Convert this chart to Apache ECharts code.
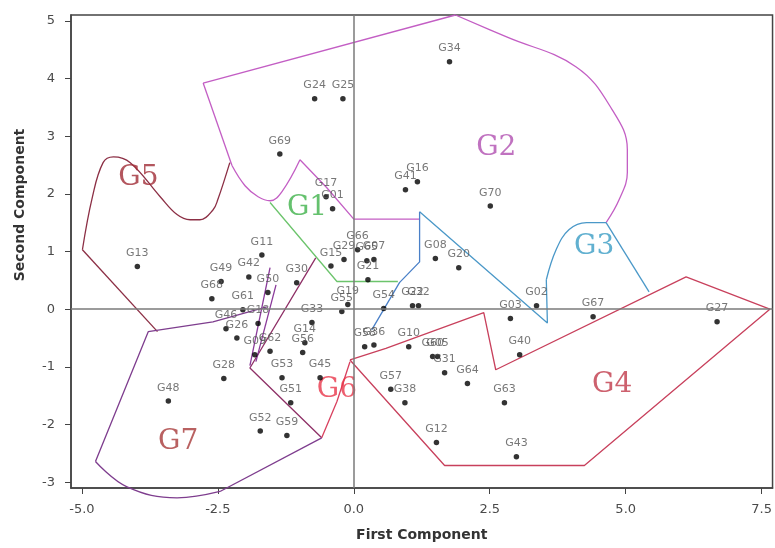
<!DOCTYPE html>
<html>
<head>
<meta charset="utf-8">
<script src="https://cdn.jsdelivr.net/npm/echarts@6/dist/echarts.min.js"></script>
<style>
  html, body { margin: 0; padding: 0; background: #ffffff; }
  #chart { width: 775px; height: 548px; }
</style>
</head>
<body>
<div id="chart"></div>
<script>
// Genotype scores on the first two principal components
const genotypes = ['G34','G24','G25','G69','G17','G01','G16','G41','G70','G13',
  'G11','G42','G49','G68','G61','G50','G30','G15','G29','G66',
  'G65','G07','G21','G19','G55','G54','G22','G32','G08','G20',
  'G02','G03','G67','G27','G40','G10','G58','G36','G60','G05',
  'G31','G64','G63','G12','G43','G38','G57','G28','G48','G52',
  'G59','G51','G33','G14','G56','G53','G45','G09','G62','G46',
  'G26','G18'];
const pc1 = [1.76,-0.72,-0.20,-1.36,-0.51,-0.39,1.17,0.95,2.51,-3.98,
  -1.69,-1.93,-2.44,-2.61,-2.04,-1.58,-1.05,-0.42,-0.18,0.07,
  0.24,0.37,0.26,-0.11,-0.22,0.55,1.08,1.19,1.50,1.93,
  3.36,2.88,4.40,6.68,3.05,1.01,0.20,0.37,1.45,1.54,
  1.67,2.09,2.77,1.52,2.99,0.94,0.68,-2.39,-3.41,-1.72,
  -1.23,-1.16,-0.77,-0.90,-0.94,-1.32,-0.62,-1.82,-1.54,-2.35,
  -2.15,-1.76];
const pc2 = [4.29,3.65,3.65,2.69,1.95,1.74,2.21,2.07,1.79,0.74,
  0.94,0.56,0.48,0.18,-0.01,0.29,0.46,0.75,0.86,1.03,
  0.84,0.86,0.51,0.08,-0.04,0.01,0.06,0.06,0.88,0.72,
  0.06,-0.16,-0.13,-0.22,-0.79,-0.65,-0.65,-0.62,-0.82,-0.82,
  -1.10,-1.29,-1.62,-2.31,-2.56,-1.62,-1.39,-1.20,-1.59,-2.11,
  -2.19,-1.62,-0.23,-0.58,-0.75,-1.19,-1.19,-0.79,-0.73,-0.34,
  -0.50,-0.25];

const xTicks = [-5, -2.5, 0, 2.5, 5, 7.5];
const yTicks = [-3, -2, -1, 0, 1, 2, 3, 4, 5];

// Cluster names and where they are written
const groupNames = ['G1','G2','G3','G4','G5','G6','G7'];
const groupX = [-0.86, 2.62, 4.42, 4.75, -3.96, -0.31, -3.23];
const groupY = [1.76, 2.80, 1.08, -1.31, 2.28, -1.40, -2.30];

// Cluster outlines, vertex lists in component units
const g2Left   = [[-2.77,3.92],[-2.24,2.49]];
const g2Top    = [[-2.77,3.92],[1.87,5.10]];
const g2Arc    = [[1.87,5.10],[2.81,4.72],[4.09,4.20],[4.75,3.46],[5.03,2.77],[5.03,2.37],[4.88,1.90],[4.64,1.50]];
const g2Notch  = [[-2.24,2.49],[-2.00,2.14],[-1.76,1.95],[-1.54,1.88],[-1.32,2.04],[-0.99,2.59]];
const g2Bottom = [[-0.99,2.59],[-0.50,2.11],[0.00,1.56],[1.21,1.56]];
const g1Edge   = [[-1.54,1.85],[-0.31,0.48],[0.81,0.48]];
const g3Edge   = [[1.21,1.69],[3.56,-0.24],[3.54,0.51]];
const g3Arc    = [[3.54,0.51],[3.72,1.03],[3.96,1.38],[4.28,1.50],[4.64,1.50]];
const g3Right  = [[4.64,1.50],[5.43,0.30]];
const g3Inner  = [[1.21,1.69],[1.21,0.82],[0.84,0.46],[0.33,-0.36]];
const g4Edge   = [[-0.07,-0.88],[0.59,-0.68],[2.39,-0.06],[2.61,-1.05],[6.11,0.56],[7.65,0.00],[4.24,-2.71],[1.67,-2.71],[-0.07,-0.88]];
const g5Edge   = [[-4.99,1.03],[-3.61,-0.39]];
const g5Wave   = [[-4.99,1.03],[-4.81,1.93],[-4.61,2.54],[-4.42,2.64],[-4.11,2.54],[-3.56,1.95],[-3.25,1.64],[-3.01,1.55],[-2.83,1.55],[-2.59,1.72],[-2.50,1.90],[-2.28,2.54]];
const g6Upper  = [[-0.70,0.89],[-1.91,-1.02],[-0.59,-2.23]];
const g6Right  = [[-0.59,-2.23],[-0.31,-1.60],[-0.07,-0.91]];
const g7Left   = [[-2.46,-3.16],[-0.59,-2.23]];
const g7Corner = [[-1.60,0.04],[-2.59,-0.22],[-3.78,-0.39],[-4.75,-2.64]];
const g7Curve  = [[-4.75,-2.64],[-4.17,-3.08],[-3.25,-3.27],[-2.46,-3.16]];
const g7Spine1 = [[-1.54,0.72],[-1.91,-0.98]];
const g7Spine2 = [[-1.43,0.42],[-1.80,-0.91]];

const outlineStyles = [
  { pts: g2Left,   color: '#c35ec4', smooth: false },
  { pts: g2Top,    color: '#c35ec4', smooth: false },
  { pts: g2Arc,    color: '#c35ec4', smooth: 0.4 },
  { pts: g2Notch,  color: '#c35ec4', smooth: 0.4 },
  { pts: g2Bottom, color: '#c35ec4', smooth: false },
  { pts: g1Edge,   color: '#6cc46c', smooth: false },
  { pts: g3Edge,   color: '#4a98c8', smooth: false },
  { pts: g3Arc,    color: '#4a98c8', smooth: 0.4 },
  { pts: g3Right,  color: '#4a98c8', smooth: false },
  { pts: g3Inner,  color: '#4a80c8', smooth: false },
  { pts: g4Edge,   color: '#c8405c', smooth: false },
  { pts: g5Edge,   color: '#8c2f45', smooth: false },
  { pts: g5Wave,   color: '#8c2f45', smooth: 0.4 },
  { pts: g6Upper,  color: '#8e2f66', smooth: false },
  { pts: g6Right,  color: '#d8405e', smooth: false },
  { pts: g7Left,   color: '#7e3d8e', smooth: false },
  { pts: g7Corner, color: '#7e3d8e', smooth: false },
  { pts: g7Curve,  color: '#7e3d8e', smooth: 0.4 },
  { pts: g7Spine1, color: '#8a3a9a', smooth: false },
  { pts: g7Spine2, color: '#8a3a9a', smooth: false }
];
const groupColors = ['#3fb24a', '#b04fb0', '#3a9cc4', '#c03a4a', '#a02c36', '#e8364a', '#a83a3a'];

const chart = echarts.init(document.getElementById('chart'), null, { renderer: 'canvas' });

const outlineSeries = outlineStyles.map(o => ({
  type: 'line',
  data: o.pts,
  smooth: o.smooth,
  symbol: 'none',
  clip: false,
  silent: true,
  z: 1,
  lineStyle: { color: o.color, width: 1.3 }
}));

const pointSeries = {
  type: 'scatter',
  symbolSize: 5.5,
  z: 4,
  itemStyle: { color: '#000000' },
  label: {
    show: true,
    position: 'top',
    distance: 5,
    formatter: '{b}',
    fontFamily: 'DejaVu Sans',
    fontSize: 11,
    color: '#555555'
  },
  data: genotypes.map((g, i) => ({ name: g, value: [pc1[i], pc2[i]] })),
  markLine: {
    silent: true,
    symbol: 'none',
    label: { show: false },
    lineStyle: { color: '#7a7a7a', width: 1.5, type: 'solid' },
    data: [{ xAxis: 0 }, { yAxis: 0 }]
  }
};

const groupSeries = {
  type: 'scatter',
  symbolSize: 0,
  z: 3,
  silent: true,
  data: groupNames.map((g, i) => ({
    name: g,
    value: [groupX[i], groupY[i]],
    label: { color: groupColors[i] }
  })),
  label: {
    show: true,
    position: 'inside',
    formatter: '{b}',
    fontFamily: 'DejaVu Serif',
    fontSize: 28
  }
};

chart.setOption({
  backgroundColor: '#ffffff',
  animation: false,
  grid: {
    left: 71, right: 2, top: 15, bottom: 60,
    show: true, borderColor: '#444444', borderWidth: 1.5,
    containLabel: false
  },
  xAxis: {
    type: 'value',
    min: -5.2, max: 7.7,
    splitLine: { show: false },
    axisLine: { show: true, onZero: false, lineStyle: { color: '#444444', width: 1.5 } },
    axisTick: { show: true, customValues: xTicks, length: 6, lineStyle: { color: '#444444' } },
    axisLabel: {
      customValues: xTicks, margin: 15,
      formatter: v => v.toFixed(1),
      fontFamily: 'DejaVu Sans', fontSize: 13, color: '#4a4a4a'
    },
    name: 'First Component',
    nameLocation: 'middle',
    nameGap: 40,
    nameTextStyle: { fontFamily: 'DejaVu Sans', fontWeight: 'bold', fontSize: 14, color: '#333333' }
  },
  yAxis: {
    type: 'value',
    min: -3.1, max: 5.1,
    splitLine: { show: false },
    axisLine: { show: true, onZero: false, lineStyle: { color: '#444444', width: 1.5 } },
    axisTick: { show: true, customValues: yTicks, length: 6, lineStyle: { color: '#444444' } },
    axisLabel: {
      customValues: yTicks, margin: 16,
      formatter: v => String(v),
      fontFamily: 'DejaVu Sans', fontSize: 13, color: '#4a4a4a'
    }
  },
  graphic: [{
    type: 'text',
    x: 20, y: 205,
    rotation: Math.PI / 2,
    style: {
      text: 'Second Component',
      textAlign: 'center',
      textVerticalAlign: 'middle',
      font: 'bold 14px "DejaVu Sans"',
      fill: '#333333'
    }
  }],
  series: [...outlineSeries, groupSeries, pointSeries]
});
</script>
</body>
</html>
